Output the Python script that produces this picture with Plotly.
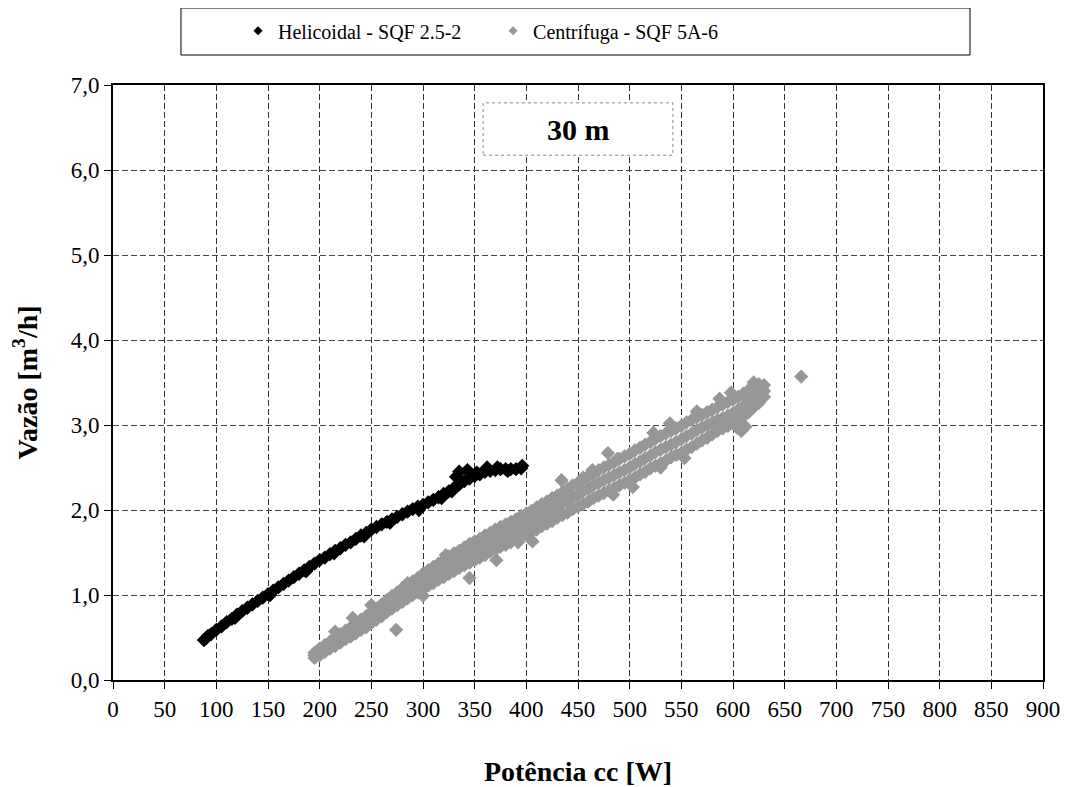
import plotly.graph_objects as go

# dados (potência cc [W] x vazão [m3/h])

heli_x = [88, 90, 95, 100, 105, 110, 115, 120, 125, 130, 135, 140, 145, 150, 155, 160,
          165, 170, 175, 180, 185, 190, 195, 200, 205, 210, 215, 220, 225, 230, 235, 240,
          245, 250, 255, 260, 265, 270, 275, 280, 285, 290, 295, 300, 305, 310, 315, 320,
          325, 330, 335, 340, 345, 350, 355, 360, 365, 370, 375, 380, 385, 390, 395]
heli_y = [0.47, 0.49, 0.54, 0.59, 0.63, 0.68, 0.72, 0.77, 0.81, 0.85, 0.89, 0.93, 0.97, 1.01, 1.05, 1.09,
          1.13, 1.17, 1.21, 1.25, 1.29, 1.33, 1.37, 1.41, 1.44, 1.48, 1.52, 1.55, 1.59, 1.62, 1.66, 1.70,
          1.73, 1.77, 1.80, 1.83, 1.86, 1.89, 1.92, 1.95, 1.98, 2.01, 2.04, 2.06, 2.09, 2.12, 2.15, 2.19,
          2.22, 2.26, 2.30, 2.34, 2.37, 2.40, 2.42, 2.45, 2.46, 2.47, 2.48, 2.48, 2.48, 2.48, 2.49]

# pontos dispersos da helicoidal
heli_x_extra = [92, 118, 152, 187, 214, 243, 268, 296, 318, 328, 332, 335, 343, 352, 362, 372, 382, 396]
heli_y_extra = [0.52, 0.73, 1.00, 1.28, 1.49, 1.69, 1.85, 2.00, 2.14, 2.22, 2.39, 2.45, 2.47, 2.44, 2.50, 2.50, 2.46, 2.52]

cent_x = [195, 200, 205, 210, 215, 220, 225, 230, 235, 240, 245, 250, 255, 260, 265, 270,
          275, 280, 285, 290, 295, 300, 305, 310, 315, 320, 325, 330, 335, 340, 345, 350,
          355, 360, 365, 370, 375, 380, 385, 390, 395, 400, 405, 410, 415, 420, 425, 430,
          435, 440, 445, 450, 455, 460, 465, 470, 475, 480, 485, 490, 495, 500, 505, 510,
          515, 520, 525, 530, 535, 540, 545, 550, 555, 560, 565, 570, 575, 580, 585, 590,
          595, 600, 605, 610, 615, 620, 625, 630]
cent_mid = [0.29, 0.33, 0.37, 0.41, 0.45, 0.49, 0.53, 0.57, 0.61, 0.65, 0.69, 0.73, 0.78, 0.82, 0.87, 0.92,
            0.96, 1.00, 1.04, 1.08, 1.12, 1.16, 1.20, 1.24, 1.27, 1.31, 1.35, 1.38, 1.42, 1.45, 1.49, 1.52,
            1.55, 1.58, 1.62, 1.65, 1.68, 1.71, 1.74, 1.77, 1.80, 1.83, 1.87, 1.90, 1.94, 1.97, 2.01, 2.04,
            2.08, 2.11, 2.15, 2.18, 2.22, 2.25, 2.29, 2.32, 2.35, 2.38, 2.41, 2.44, 2.47, 2.50, 2.54, 2.57,
            2.61, 2.64, 2.68, 2.71, 2.74, 2.77, 2.80, 2.83, 2.87, 2.90, 2.94, 2.97, 3.00, 3.03, 3.06, 3.08,
            3.11, 3.14, 3.18, 3.22, 3.27, 3.32, 3.36, 3.40]
cent_lo = [0.26, 0.29, 0.33, 0.37, 0.40, 0.44, 0.48, 0.51, 0.55, 0.59, 0.62, 0.67, 0.71, 0.75, 0.80, 0.84,
           0.88, 0.92, 0.96, 1.00, 1.03, 1.07, 1.11, 1.14, 1.18, 1.21, 1.25, 1.28, 1.32, 1.35, 1.38, 1.41,
           1.44, 1.47, 1.51, 1.53, 1.57, 1.59, 1.62, 1.65, 1.68, 1.71, 1.74, 1.77, 1.81, 1.84, 1.87, 1.91,
           1.94, 1.97, 2.01, 2.04, 2.07, 2.10, 2.14, 2.17, 2.20, 2.23, 2.26, 2.29, 2.32, 2.35, 2.38, 2.42,
           2.45, 2.49, 2.52, 2.55, 2.58, 2.62, 2.65, 2.67, 2.71, 2.74, 2.78, 2.82, 2.85, 2.89, 2.93, 2.96,
           2.99, 3.02, 3.06, 3.10, 3.15, 3.21, 3.26, 3.33]
cent_hi = [0.32, 0.37, 0.41, 0.45, 0.50, 0.54, 0.58, 0.62, 0.67, 0.71, 0.75, 0.80, 0.84, 0.89, 0.94, 0.99,
           1.03, 1.08, 1.12, 1.16, 1.20, 1.25, 1.29, 1.33, 1.37, 1.41, 1.45, 1.49, 1.52, 1.56, 1.60, 1.63,
           1.66, 1.70, 1.73, 1.77, 1.80, 1.83, 1.86, 1.89, 1.93, 1.96, 1.99, 2.03, 2.07, 2.10, 2.14, 2.17,
           2.21, 2.25, 2.29, 2.32, 2.36, 2.40, 2.43, 2.47, 2.50, 2.53, 2.56, 2.60, 2.63, 2.66, 2.70, 2.73,
           2.77, 2.80, 2.84, 2.87, 2.90, 2.93, 2.96, 2.99, 3.03, 3.06, 3.09, 3.12, 3.15, 3.18, 3.21, 3.24,
           3.27, 3.30, 3.33, 3.37, 3.41, 3.45, 3.48, 3.47]

# pontos dispersos da centrífuga
cent_x_extra = [215, 232, 250, 274, 285, 300, 322, 345, 371, 392, 406, 434, 455, 464, 479, 484,
                488, 503, 523, 530, 539, 553, 565, 604, 608, 612, 587, 598, 620, 666]
cent_y_extra = [0.57, 0.73, 0.88, 0.59, 1.14, 0.99, 1.47, 1.20, 1.41, 1.62, 1.63, 2.35, 2.38, 2.47, 2.67, 2.18,
                2.60, 2.27, 2.91, 2.50, 3.02, 2.61, 3.16, 2.97, 2.93, 2.98, 3.31, 3.38, 3.50, 3.57]

x_ticks = list(range(0, 901, 50))
y_ticks = [0, 1, 2, 3, 4, 5, 6, 7]
y_tick_labels = ["0,0", "1,0", "2,0", "3,0", "4,0", "5,0", "6,0", "7,0"]

serif = "Liberation Serif"
cor_heli = "#000000"
cor_cent = "#979797"

fig = go.Figure()

fig.add_trace(go.Scatter(
    x=cent_x + cent_x + cent_x + cent_x_extra,
    y=cent_lo + cent_mid + cent_hi + cent_y_extra,
    mode="markers",
    marker=dict(symbol="diamond", size=11, color=cor_cent),
    showlegend=False
))

fig.add_trace(go.Scatter(
    x=heli_x + heli_x_extra,
    y=heli_y + heli_y_extra,
    mode="markers",
    marker=dict(symbol="diamond", size=11, color=cor_heli),
    showlegend=False
))

# entradas da legenda (marcador pequeno como no original)
fig.add_trace(go.Scatter(x=[None], y=[None], mode="markers", name="Helicoidal - SQF 2.5-2",
                         marker=dict(symbol="diamond", size=7, color=cor_heli)))
fig.add_trace(go.Scatter(x=[None], y=[None], mode="markers", name="Centrífuga - SQF 5A-6",
                         marker=dict(symbol="diamond", size=7, color=cor_cent)))

fig.update_xaxes(
    range=[0, 900], tickvals=x_ticks,
    showline=True, linecolor="black", linewidth=2, mirror=True,
    ticks="outside", ticklen=7, tickcolor="black", tickwidth=1,
    showgrid=True, gridcolor="#333333", gridwidth=1, griddash="6px,3px",
    zeroline=False,
    tickfont=dict(family=serif, size=23, color="black"),
    title=dict(text="<b>Potência cc [W]</b>", font=dict(family=serif, size=28, color="black"), standoff=41),
)
fig.update_yaxes(
    range=[0, 7], tickvals=y_ticks, ticktext=y_tick_labels,
    showline=True, linecolor="black", linewidth=2, mirror=True,
    ticks="outside", ticklen=7, tickcolor="black", tickwidth=1,
    showgrid=True, gridcolor="#444444", gridwidth=1, griddash="6px,3px",
    zeroline=False,
    tickfont=dict(family=serif, size=23, color="black"),
    title=dict(text="<b>Vazão [m<sup>3</sup>/h]</b>", font=dict(family=serif, size=28, color="black"), standoff=27),
)

fig.update_layout(
    width=1070, height=787,
    margin=dict(l=105, r=35, t=77, b=115),
    plot_bgcolor="white", paper_bgcolor="white",
    font=dict(family=serif, color="black"),
    legend=dict(orientation="h", xref="container", yref="container",
                x=0.215, y=0.971, xanchor="left", yanchor="middle",
                bgcolor="rgba(0,0,0,0)", font=dict(family=serif, size=20, color="black"),
                entrywidth=210, itemclick=False),
    shapes=[
        dict(type="rect", xref="paper", yref="paper", x0=0.0731, x1=0.9215, y0=1.0504, y1=1.1294,
             line=dict(color="black", width=1), fillcolor="rgba(0,0,0,0)", layer="above"),
        dict(type="rect", xref="paper", yref="paper", x0=0.398, x1=0.602, y0=0.882, y1=0.970,
             line=dict(color="#888888", width=1, dash="dot"), fillcolor="white", layer="above"),
    ],
    annotations=[
        dict(text="<b>30 m</b>", xref="paper", yref="paper", x=0.5, y=0.926,
             xanchor="center", yanchor="middle", showarrow=False,
             font=dict(family=serif, size=30, color="black"))
    ],
)

fig.write_html("out.html")
